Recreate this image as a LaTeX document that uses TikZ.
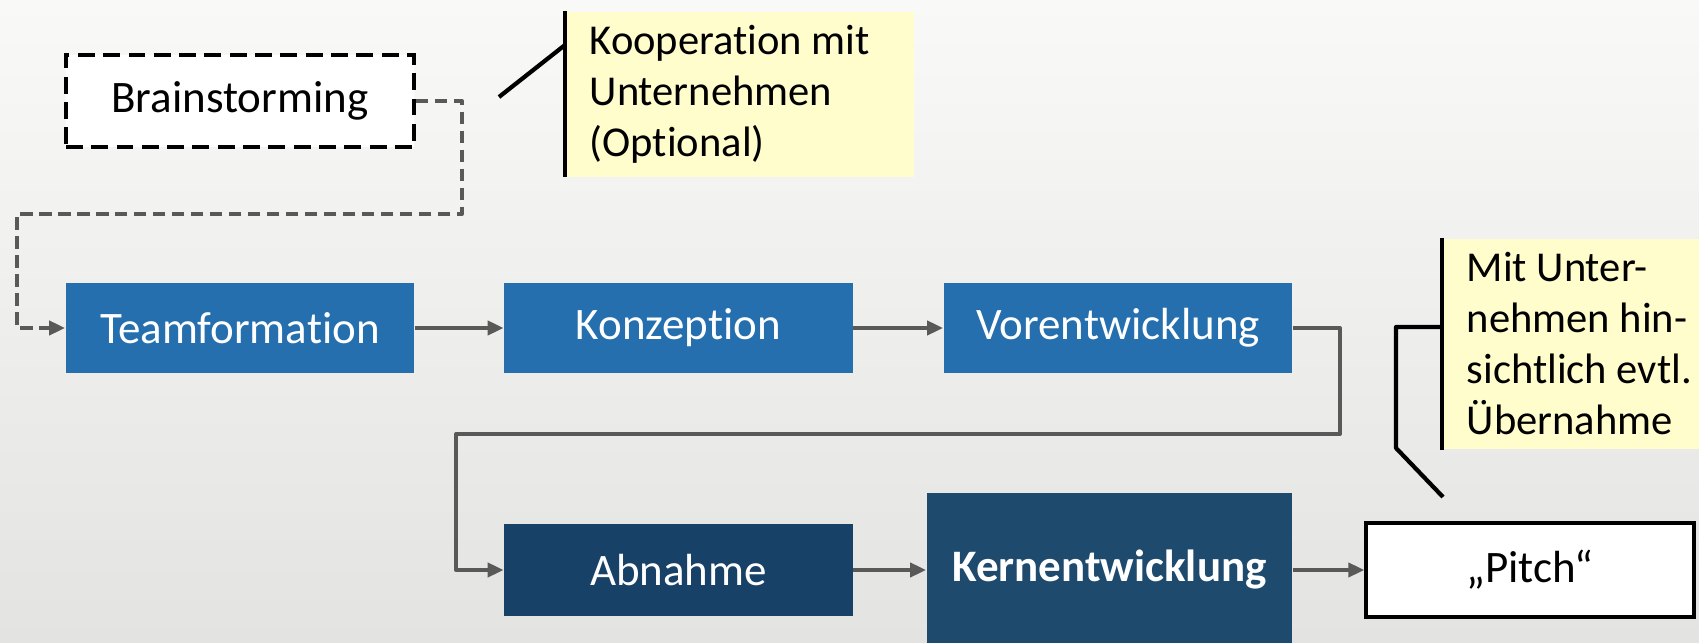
\documentclass[tikz,border=0pt]{standalone}
\usepackage{fontspec}
\setmainfont{Carlito}[Ligatures=NoCommon]
\usetikzlibrary{arrows.meta,calc}
\definecolor{stageblue}{RGB}{37,111,175}
\definecolor{stagenavy}{RGB}{23,65,102}
\definecolor{corenavy}{RGB}{30,74,110}
\definecolor{notebg}{RGB}{255,253,204}
\definecolor{linkgray}{RGB}{89,89,89}
\definecolor{bgtop}{RGB}{249,250,248}
\definecolor{bgbottom}{RGB}{227,228,225}

\begin{document}
\begin{tikzpicture}[x=0.01cm,y=-0.01cm,
        every node/.style={font=\fontsize{12.8}{14.5}\selectfont},
        stage/.style={fill=stageblue,text=white,minimum width=3.48cm,minimum height=0.9cm,inner sep=0pt},
        draftbox/.style={draw=black,fill=white,line width=0.95pt,dash pattern=on 4.8pt off 2.4pt,minimum width=3.48cm,minimum height=0.92cm,inner sep=0pt},
        note/.style={fill=notebg,anchor=north west,align=flush left,inner xsep=0.24cm,inner ysep=0pt,font=\fontsize{12.1}{14.5}\selectfont},
        notebar/.style={line width=1.2pt},
        callout/.style={line width=1.2pt,line join=round},
        link/.style={draw=linkgray,line width=1.13pt,line join=round,-{Triangle[length=4.6pt,width=4pt]}},
        optlink/.style={link,dash pattern=on 3.6pt off 1.8pt}]
                        \useasboundingbox (0,0) rectangle (1699,643);
                        \shade [top color=bgtop,bottom color=bgbottom] (0,0) rectangle (1699,643);
                        \node [draftbox] (brain) at (240,101) {Brainstorming};
                        \node [stage] (team) at (240,328) {Teamformation};
                        \node [stage] (konz) at (678.5,328) {Konzeption};
                        \node [stage] (vor) at (1118,328) {Vorentwicklung};
                        \node [stage,fill=stagenavy,minimum height=0.92cm] (abn) at (678.5,570) {Abnahme};
                        \node [stage,fill=corenavy,minimum width=3.65cm,minimum height=1.54cm,font=\fontsize{12.8}{14.5}\selectfont\bfseries] (kern) at (1109.5,570) {Kernentwicklung};
                        \node [draw=black,fill=white,line width=1.13pt,minimum width=3.27cm,minimum height=0.94cm,inner sep=0pt] (pitch) at (1530,570) {„Pitch“};
                        \node [note,text width=3.0cm,minimum height=1.65cm] (coop) at (565,11) {Kooperation mit\\Unternehmen\\(Optional)};
                        \node [note,text width=2.9cm,minimum height=2.1cm] (take) at (1442,238) {Mit Unter-\\nehmen hin-\\sichtlich evtl.\\Übernahme};
                        \draw [notebar] (coop.north west) -- (coop.south west);
                        \draw [notebar] (take.north west) -- (take.south west);
                        \coordinate (tip1) at (499,97);
                        \coordinate (tip2) at (1443,497);
                        \draw [callout] (tip1) -- ($(coop.north west)+(0,34)$);
                        \draw [callout] ($(take.north west)+(0,89)$) -- ++(-46,0) -- (1396,448) -- (tip2);
                        \draw [optlink] (brain.east) -| (462,214) -- (17,214) |- (team.west);
                        \draw [link] (team) -- (konz);
                        \draw [link] (konz) -- (vor);
                        \draw [link] (vor.east) -| (1340,434) -- (456,434) |- (abn.west);
                        \draw [link] (abn) -- (kern);
                        \draw [link] (kern) -- (pitch);
                    \end{tikzpicture}
\end{document}
